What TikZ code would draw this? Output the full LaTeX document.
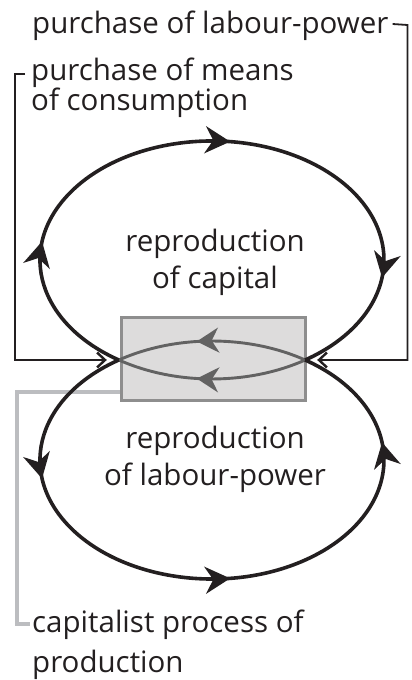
\documentclass[tikz,border=0pt]{standalone}
\usepackage{fontspec}
\setmainfont{Open Sans}
\usepackage{tikz}
\usetikzlibrary{positioning,arrows.meta,decorations.markings}

\definecolor{ink}{HTML}{231F20}
\definecolor{boxfill}{HTML}{DDDCDC}
\definecolor{boxline}{HTML}{8E8E8E}
\definecolor{inner}{HTML}{626262}
\definecolor{procgrey}{HTML}{BCBDC0}

\begin{document}
\begin{tikzpicture}[x=1pt, y=1pt,
    textlbl/.style={inner sep=0pt, text=ink, font=\fontsize{29.5}{29}\selectfont, align=left},
    feed/.style={ink, line width=1.8pt, shorten >=12pt,
        -{Straight Barb[length=8pt, width=15pt, line width=2.4pt]}},
    procline/.style={procgrey, line width=3.5pt},
    procbox/.style={draw=boxline, fill=boxfill, line width=3pt,
        minimum width=184pt, minimum height=83pt, inner sep=0pt},
    loopline/.style={ink, line width=3.6pt, postaction={decorate},
        decoration={markings,
            mark=at position 0.21 with {\arrow{Stealth[length=25pt, width=27pt, inset=8pt]}},
            mark=at position 0.525 with {\arrow{Stealth[length=25pt, width=27pt, inset=8pt]}},
            mark=at position 0.84 with {\arrow{Stealth[length=25pt, width=27pt, inset=8pt]}}}},
    innerline/.style={inner, line width=2.9pt, postaction={decorate},
        decoration={markings,
            mark=at position 0.58 with {\arrow{Stealth[length=22pt, width=25pt, inset=7pt]}}}}]

    \useasboundingbox (0,0) rectangle (412,680);

    % the two crossing points of the loops
    \coordinate (L) at (118.8,320);
    \coordinate (R) at (305.2,320);
    \coordinate (lab turn) at (407.5,655);

    % labels
    \node[textlbl, anchor=base west] (lab)  at (32,646) {purchase of labour-power};
    \node[textlbl, anchor=base west] (cons) at (31,569) {purchase of means\\of consumption};
    \node[textlbl, anchor=base west, font=\fontsize{29.5}{39}\selectfont] (prod) at (32,8)
        {capitalist process of\\production};

    \node[textlbl, align=center, font=\fontsize{29.5}{37}\selectfont] (repcap) at (215,417.5)
        {reproduction\\of capital};
    \node[textlbl, align=center, font=\fontsize{29.5}{37}\selectfont] (replab) at (215,220.5)
        {reproduction\\of labour-power};

    % process of production
    \node[procbox] (box) at (213.5,321) {};
    \draw[procline] ([yshift=-33pt]box.west)
        -| ([xshift=-15pt,yshift=48pt]prod.base west)
        -- ([xshift=-2pt,yshift=48pt]prod.base west);

    % purchases
    \draw[feed] ([xshift=-6pt,yshift=37pt]cons.base west)
        -- ([xshift=-16pt,yshift=37pt]cons.base west) |- (L);
    \draw[feed] ([xshift=4pt,yshift=10pt]lab.base east) -- (lab turn) |- (R);

    % inner arcs
    \draw[innerline] (R) arc[start angle=-57.2, end angle=-122.8, x radius=172, y radius=119];
    \draw[innerline] (R) arc[start angle=57.2, end angle=122.8, x radius=172, y radius=119];

    % outer loops
    \draw[loopline] (L) arc[start angle=237.2, end angle=-57.2, x radius=172, y radius=119];
    \draw[loopline] (L) arc[start angle=122.8, end angle=417.2, x radius=172, y radius=119];
\end{tikzpicture}
\end{document}
